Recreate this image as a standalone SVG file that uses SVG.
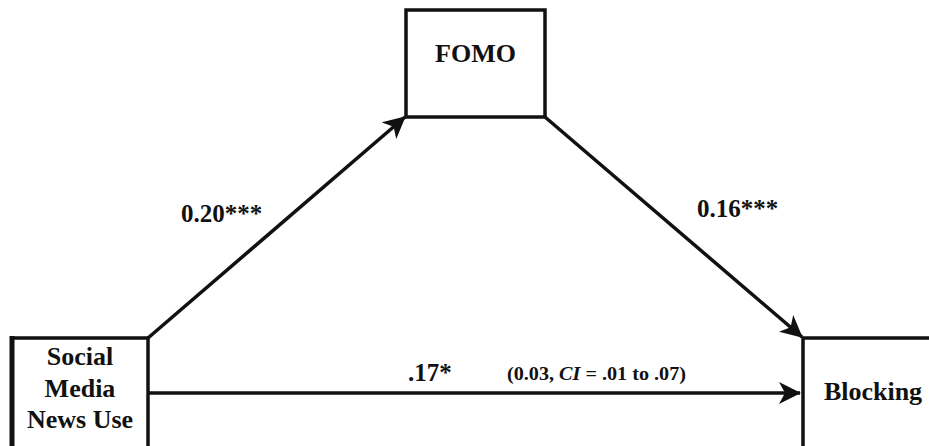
<svg xmlns="http://www.w3.org/2000/svg" width="929" height="446" viewBox="0 0 929 446">
<style>
.box{fill:#fff;stroke:#111;stroke-width:3.5}
.lbl{font-family:"Liberation Serif","Times New Roman",serif;font-weight:bold;fill:#111}
.node{font-size:26px;text-anchor:middle}
.conn{stroke:#111;stroke-width:3.5;fill:none}
</style>
<defs>
<marker id="ah" viewBox="0 0 22 22" refX="21" refY="11" markerWidth="22" markerHeight="22" markerUnits="userSpaceOnUse" orient="auto">
<path d="M0,0 L22,11 L0,22 L6,11 Z" fill="#111"/>
</marker>
</defs>
<rect width="929" height="446" fill="#fff"/>
<g id="connectors">
<line class="conn" x1="148" y1="338" x2="405" y2="117" marker-end="url(#ah)"/>
<line class="conn" x1="545" y1="117" x2="802" y2="337" marker-end="url(#ah)"/>
<line class="conn" x1="148" y1="393" x2="800" y2="393" marker-end="url(#ah)"/>
</g>
<g id="social">
<rect class="box" x="12" y="338" width="136" height="120"/>
<line x1="12" y1="336" x2="12" y2="446" stroke="#111" stroke-width="5"/>
<text class="lbl node" x="80" y="365">Social</text>
<text class="lbl node" x="80" y="397">Media</text>
<text class="lbl node" x="80" y="428">News Use</text>
</g>
<g id="fomo">
<rect class="box" x="406" y="10" width="139" height="107"/>
<text class="lbl node" x="475.5" y="62" font-size="27">FOMO</text>
</g>
<g id="blocking">
<rect class="box" x="803" y="338" width="150" height="120"/>
<text class="lbl node" x="873" y="400">Blocking</text>
</g>
<g id="labels">
<text class="lbl" x="181" y="222" font-size="25">0.20***</text>
<text class="lbl" x="697" y="217" font-size="25">0.16***</text>
<text class="lbl" x="408" y="381" font-size="25">.17*</text>
<text class="lbl" x="507" y="380" font-size="18" textLength="179" lengthAdjust="spacingAndGlyphs">(0.03, <tspan font-style="italic">CI</tspan> = .01 to .07)</text>
</g>
</svg>
